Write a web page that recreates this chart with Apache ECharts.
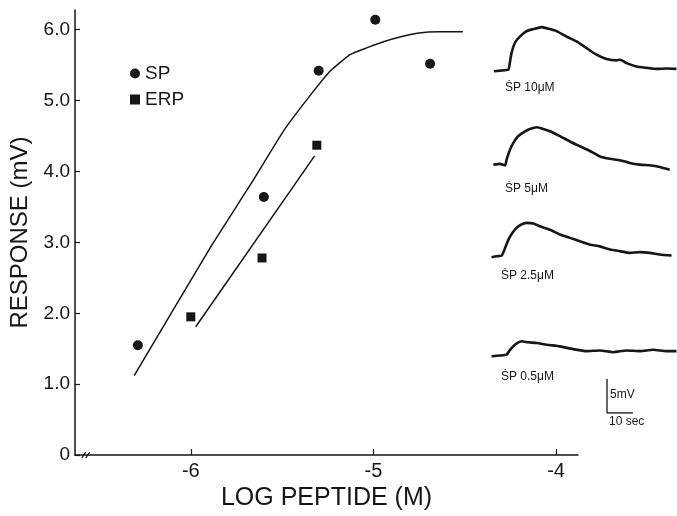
<!DOCTYPE html>
<html>
<head>
<meta charset="utf-8">
<title>SP / ERP dose response</title>
<script src="https://cdn.jsdelivr.net/npm/echarts@6/dist/echarts.min.js"></script>
<style>
  html, body { margin: 0; padding: 0; background: #fff; }
  #chart { width: 677px; height: 516px; }
</style>
</head>
<body>
<div id="chart"></div>
<script>
// log peptide (M) vs response (mV)
const spPoints = [[-6.29, 1.55], [-5.60, 3.64], [-5.30, 5.42], [-4.99, 6.14], [-4.69, 5.52]];
const erpPoints = [[-6.0, 1.95], [-5.61, 2.78], [-5.31, 4.37]];
// fitted curves
const spFit = [[-6.31, 1.12], [-5.885, 2.96], [-5.672, 3.82], [-5.49, 4.58], [-5.344, 5.08],
  [-5.235, 5.42], [-5.126, 5.65], [-5.03, 5.75], [-4.945, 5.83], [-4.85, 5.9], [-4.76, 5.95],
  [-4.64, 5.97], [-4.51, 5.97]];
const erpFit = [[-5.973, 1.81], [-5.322, 4.22]];
const xTicks = [-6, -5, -4];
const yTicks = [0, 1, 2, 3, 4, 5, 6];

// recordings: time (sec), depolarisation (mV)
const trace10 = [[1.5, -0.1], [3.8, 0], [7.1, 0.15], [7.4, 0.6], [8.3, 2.6], [9.6, 4.1], [11.5, 5.0],
  [14.1, 5.8], [16.7, 6.1], [19.9, 6.4], [23.1, 6.1], [25.6, 5.8], [29.5, 5.0], [33.3, 4.3],
  [37.2, 3.3], [41.0, 2.35], [44.9, 1.7], [48.7, 1.5], [50, 1.6], [52.6, 1.1], [56.4, 0.6],
  [60.3, 0.4], [64.1, 0.25], [68.0, 0.3], [71.8, 0.25]];
const trace5 = [[1.3, 0], [3.8, 0.1], [5.8, -0.1], [6.4, 0.75], [7.7, 2.2], [9.0, 3.2], [10.9, 4.2],
  [13.5, 4.9], [15.4, 5.25], [18.0, 5.5], [20.5, 5.25], [23.1, 4.9], [26.9, 4.2], [30.8, 3.4],
  [34.6, 2.7], [38.5, 2.0], [42.3, 1.2], [46.2, 0.85], [50, 0.65], [53.8, 0.25], [57.7, 0],
  [61.5, -0.1], [64.1, -0.25], [66.7, -0.5], [69.2, -0.75]];
const trace2p5 = [[0.6, 0.05], [2.6, 0.2], [4.5, 0.3], [5.8, 1.4], [7.1, 2.65], [9.0, 3.85],
  [10.9, 4.6], [14.1, 5.1], [16.7, 5.0], [19.2, 4.6], [23.1, 4.1], [26.9, 3.4], [30.8, 2.9],
  [34.6, 2.4], [38.5, 1.9], [42.3, 1.65], [46.2, 1.2], [50, 0.95], [53.8, 0.7], [57.7, 0.8],
  [61.5, 0.7], [65.4, 0.45], [69.9, 0.3]];
const trace0p5 = [[0.6, 0.05], [3.8, 0.15], [6.4, 0.3], [7.7, 1.0], [9.6, 1.75], [12.2, 2.25],
  [14.7, 2.1], [18.0, 2.0], [21.8, 1.75], [26.9, 1.5], [32.0, 1.1], [37.2, 0.8], [42.3, 0.9],
  [47.4, 0.65], [52.6, 0.9], [57.7, 0.8], [62.8, 1.0], [68.0, 0.8], [71.8, 0.8]];
const traceLabels = ['ṠP 10μM', 'ṠP 5μM', 'ṠP 2.5μM', 'ṠP 0.5μM'];
const scaleBar = [[0, 5], [0, 0], [10, 0]]; // 5 mV, 10 sec

const ink = '#161616';
const font = 'Liberation Sans';
const chart = echarts.init(document.getElementById('chart'));

// trace panels share one scale: 2.6 px per sec, 6.8 px per mV
const traceTops = [23, 117, 210, 309];
const traceData = [trace10, trace5, trace2p5, trace0p5];

const grids = [{ left: 75, right: 99, top: 10, bottom: 52 }];
const xAxes = [{
  type: 'value', gridIndex: 0, min: -6.634, max: -3.88,
  name: 'LOG PEPTIDE (M)', nameLocation: 'middle', nameGap: 17,
  nameTextStyle: { fontFamily: font, fontSize: 25, color: ink },
  axisLine: { lineStyle: { color: ink, width: 1.5 } },
  axisTick: { inside: true, length: 6, customValues: xTicks, lineStyle: { color: ink, width: 1.2 } },
  axisLabel: { customValues: xTicks, margin: 6, fontFamily: font, fontSize: 20, color: ink },
  splitLine: { show: false }
}];
const yAxes = [{
  type: 'value', gridIndex: 0, min: 0, max: 6.277,
  name: 'RESPONSE (mV)', nameLocation: 'middle', nameGap: 42,
  nameTextStyle: { fontFamily: font, fontSize: 24, color: ink },
  axisLine: { lineStyle: { color: ink, width: 1.5 } },
  axisTick: { inside: true, length: 5, customValues: yTicks, lineStyle: { color: ink, width: 1.2 } },
  axisLabel: {
    customValues: yTicks, margin: 5, fontFamily: font, fontSize: 19, color: ink,
    formatter: v => (v === 0 ? '0' : v.toFixed(1))
  },
  splitLine: { show: false }
}];
const series = [
  { name: 'SP', type: 'scatter', xAxisIndex: 0, yAxisIndex: 0, data: spPoints,
    symbol: 'circle', symbolSize: 10, itemStyle: { color: ink, opacity: 1 } },
  { name: 'ERP', type: 'scatter', xAxisIndex: 0, yAxisIndex: 0, data: erpPoints,
    symbol: 'rect', symbolSize: 9, itemStyle: { color: ink, opacity: 1 } },
  { name: 'SP fit', type: 'line', xAxisIndex: 0, yAxisIndex: 0, data: spFit, smooth: 0.15,
    showSymbol: false, lineStyle: { color: ink, width: 1.5 } },
  { name: 'ERP fit', type: 'line', xAxisIndex: 0, yAxisIndex: 0, data: erpFit,
    showSymbol: false, lineStyle: { color: ink, width: 1.5 } }
];

traceData.forEach((d, i) => {
  const g = i + 1;
  grids.push({ left: 490, right: 0, top: traceTops[i], height: 54.4 });
  xAxes.push({ type: 'value', gridIndex: g, min: 0, max: 72, show: false });
  yAxes.push({ type: 'value', gridIndex: g, min: -1, max: 7, show: false });
  series.push({ name: traceLabels[i], type: 'line', xAxisIndex: g, yAxisIndex: g, data: d,
    smooth: 0.2, showSymbol: false, lineStyle: { color: ink, width: 2.6 } });
});

// scale bar panel
grids.push({ left: 607, width: 26, top: 379, height: 34 });
xAxes.push({ type: 'value', gridIndex: 5, min: 0, max: 10, show: false });
yAxes.push({ type: 'value', gridIndex: 5, min: 0, max: 5, show: false });
series.push({ name: 'scale', type: 'line', xAxisIndex: 5, yAxisIndex: 5, data: scaleBar,
  showSymbol: false, lineStyle: { color: ink, width: 1.3 } });

const labelPos = [[505, 89], [505, 190], [501, 277], [501, 378]];
const graphics = traceLabels.map((t, i) => ({
  type: 'text', left: labelPos[i][0], top: labelPos[i][1] - 7,
  style: { text: t, fontFamily: font, fontSize: 12, fill: ink }
}));
graphics.push({ type: 'text', left: 610, top: 389, style: { text: '5mV', fontFamily: font, fontSize: 12, fill: ink } });
graphics.push({ type: 'text', left: 609, top: 416, style: { text: '10 sec', fontFamily: font, fontSize: 12, fill: ink } });

chart.setOption({
  animation: false,
  backgroundColor: '#fff',
  legend: {
    orient: 'vertical', left: 125, top: 59, itemWidth: 10, itemHeight: 10, itemGap: 7,
    textStyle: { fontFamily: font, fontSize: 19, color: ink },
    data: [{ name: 'SP', icon: 'circle' }, { name: 'ERP', icon: 'rect' }]
  },
  grid: grids,
  xAxis: xAxes,
  yAxis: yAxes,
  series: series,
  graphic: graphics
});

// axis break mark just after the origin
const breakAt = chart.convertToPixel({ gridIndex: 0 }, [-6.57, 0]);
graphics.push({ type: 'line', shape: { x1: breakAt[0] - 5, y1: breakAt[1] + 3, x2: breakAt[0] - 1, y2: breakAt[1] - 3 },
  style: { stroke: ink, lineWidth: 1.2 } });
graphics.push({ type: 'line', shape: { x1: breakAt[0] - 1, y1: breakAt[1] + 3, x2: breakAt[0] + 3, y2: breakAt[1] - 3 },
  style: { stroke: ink, lineWidth: 1.2 } });
chart.setOption({ graphic: graphics });
</script>
</body>
</html>
